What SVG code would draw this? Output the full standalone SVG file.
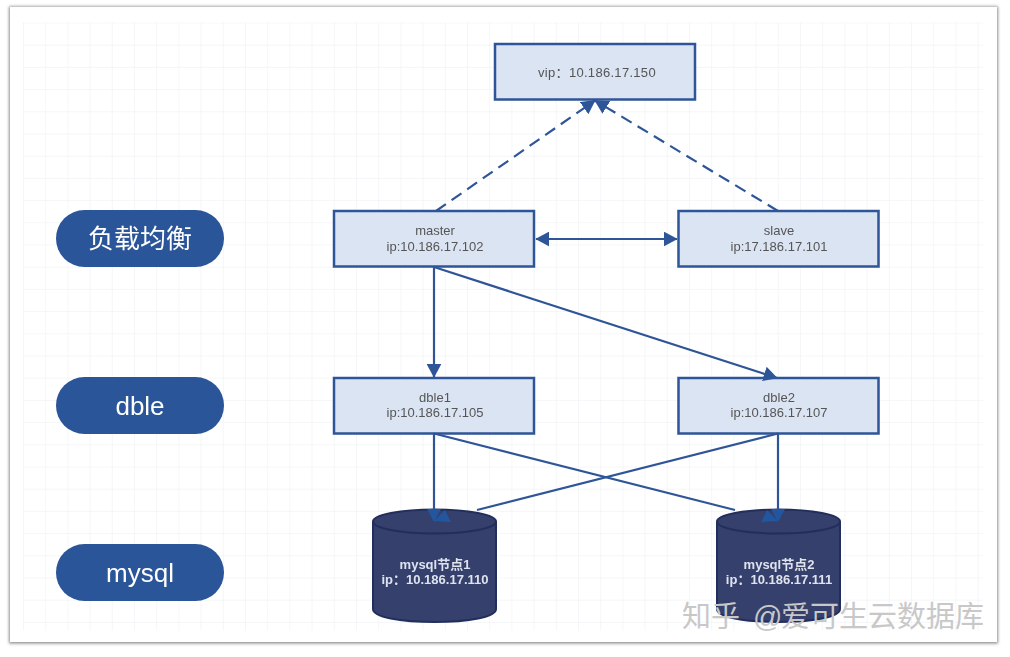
<svg xmlns="http://www.w3.org/2000/svg" width="1010" height="657" viewBox="0 0 1010 657">
<style>
.box{fill:#dbe4f3;stroke:#2f5597;stroke-width:2.5}
.pill{fill:#2a5498}
.cyl{fill:#343f6c;stroke:#232f5c;stroke-width:2}
.t{font-family:"Liberation Sans","Noto Sans CJK SC",sans-serif;font-size:13px;fill:#555;text-anchor:middle}
.w{font-family:"Liberation Sans","Noto Sans CJK SC",sans-serif;font-size:13px;fill:#dfe3ee;text-anchor:middle;font-weight:bold}
.p{font-family:"Liberation Sans","Noto Sans CJK SC",sans-serif;font-size:26px;fill:#fff;text-anchor:middle}
.l{fill:none;stroke:#2f5597;stroke-width:2.2}
.ah{fill:#24569f}
</style>
<defs>
<filter id="s" x="-3%" y="-3%" width="106%" height="106%"><feGaussianBlur stdDeviation="1.5"/></filter>
<filter id="b" x="-5%" y="-5%" width="110%" height="110%"><feGaussianBlur stdDeviation="0.4"/></filter>
<marker id="a" viewBox="0 0 10 10" refX="9.500" refY="5" markerWidth="14" markerHeight="15" markerUnits="userSpaceOnUse" orient="auto-start-reverse" preserveAspectRatio="none"><path d="M0 0L10 5L0 10z" fill="#2f5597"/></marker>
<pattern id="grid" x="23" y="22.500" width="22.200" height="22.200" patternUnits="userSpaceOnUse"><path d="M22.200 0H0V22.200" fill="none" stroke="#ebedf1" stroke-width="1"/></pattern>
</defs>
<rect width="1010" height="657" fill="#fff"/>
<rect x="9" y="6.500" width="989" height="637" fill="#8d8d8d" filter="url(#s)"/>
<rect x="10" y="7" width="987" height="635" fill="#fff"/>
<rect x="23" y="22.500" width="960" height="608" fill="url(#grid)"/>
<g filter="url(#b)">
<g id="pill-lb"><rect class="pill" x="56" y="210" width="168" height="57" rx="28.500"/><text class="p" x="140" y="248">负载均衡</text></g>
<g id="pill-dble"><rect class="pill" x="56" y="377" width="168" height="57" rx="28.500"/><text class="p" x="140" y="415">dble</text></g>
<g id="pill-mysql"><rect class="pill" x="56" y="544" width="168" height="57" rx="28.500"/><text class="p" x="140" y="582">mysql</text></g>
<g id="vip"><rect class="box" x="495" y="44" width="200" height="55.500"/><text class="t" x="597" y="76.500" letter-spacing=".3">vip：10.186.17.150</text></g>
<g id="master"><rect class="box" x="334" y="211" width="200" height="55.500"/><text class="t" x="435" y="235">master</text><text class="t" x="435" y="251">ip:10.186.17.102</text></g>
<g id="slave"><rect class="box" x="678.500" y="211" width="200" height="55.500"/><text class="t" x="779" y="235">slave</text><text class="t" x="779" y="251">ip:17.186.17.101</text></g>
<g id="dble1"><rect class="box" x="334" y="378" width="200" height="55.500"/><text class="t" x="435" y="402">dble1</text><text class="t" x="435" y="417">ip:10.186.17.105</text></g>
<g id="dble2"><rect class="box" x="678.500" y="378" width="200" height="55.500"/><text class="t" x="779" y="402">dble2</text><text class="t" x="779" y="417">ip:10.186.17.107</text></g>
<g id="mysql1"><path class="cyl" d="M373 521V609C373 617 400 622 434.500 622S496 617 496 609V521"/><ellipse class="cyl" cx="434.500" cy="521.500" rx="61.500" ry="12"/><text class="w" x="435" y="569">mysql节点1</text><text class="w" x="435" y="584">ip：10.186.17.110</text></g>
<g id="mysql2"><path class="cyl" d="M717 521V609C717 617 744 622 778.500 622S840 617 840 609V521"/><ellipse class="cyl" cx="778.500" cy="521.500" rx="61.500" ry="12"/><text class="w" x="779" y="569">mysql节点2</text><text class="w" x="779" y="584">ip：10.186.17.111</text></g>
<g id="connectors">
<path class="l" stroke-dasharray="12 7" d="M436 211L595 100.500" marker-end="url(#a)"/>
<path class="l" stroke-dasharray="12 7" d="M778 211L595 100.500" marker-end="url(#a)"/>
<path class="l" d="M536 239H677" marker-start="url(#a)" marker-end="url(#a)"/>
<path class="l" d="M434 267V377" marker-end="url(#a)"/>
<path class="l" d="M434 267L777 378" marker-end="url(#a)"/>
<path class="l" d="M434 433.500V509"/>
<path class="l" d="M778 433.500V509"/>
<path class="l" d="M434 433.500L735 510"/>
<path class="l" d="M778 433.500L477 510"/>
<path class="ah" d="M427 509H441L434 522zM445 510L451 522L434 521z"/>
<path class="ah" d="M771 509H785L778 522zM767 510L761 522L778 521z"/>
</g>
</g>
<g id="watermark" font-family="'Liberation Sans','Noto Sans CJK SC',sans-serif" font-size="29" fill="#c8c8c8">
<text x="682" y="627">知乎</text>
<text x="753" y="627">@</text>
<text x="781" y="627">爱可生云数据库</text>
</g>
</svg>
